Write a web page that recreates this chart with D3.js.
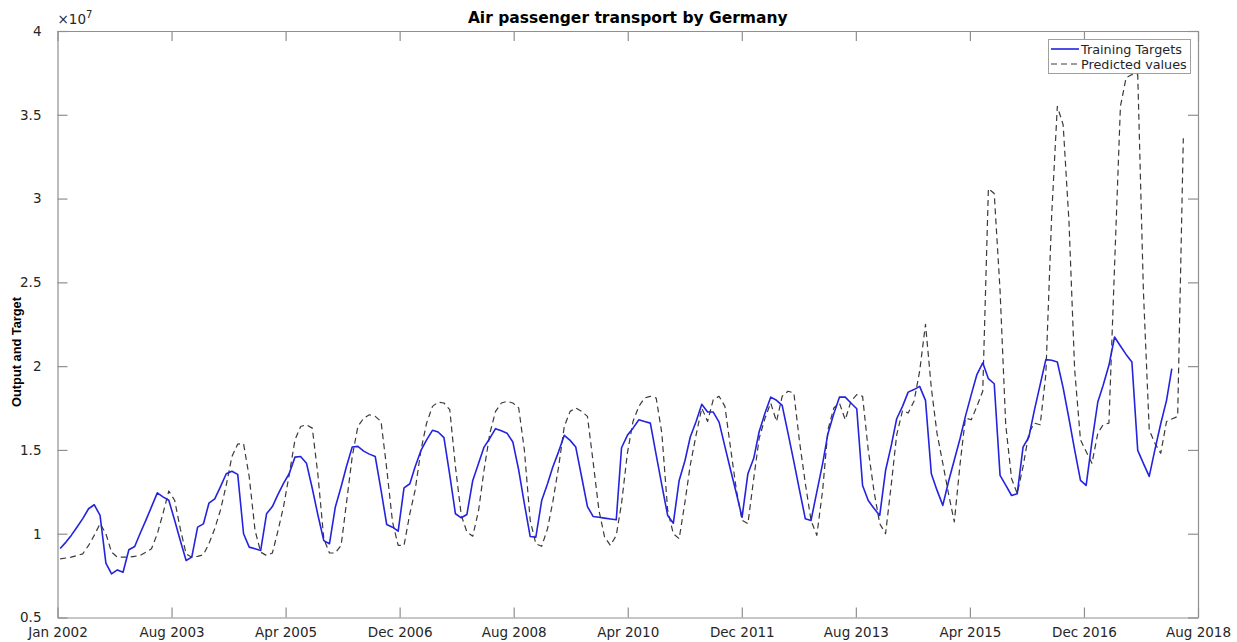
<!DOCTYPE html>
<html>
<head>
<meta charset="utf-8">
<script src="https://cdn.jsdelivr.net/npm/d3@7"></script>
<style>
  body { margin: 0; background: #ffffff; }
  svg { display: block; font-family: "DejaVu Sans", sans-serif; }
</style>
</head>
<body>
<svg id="chart" width="1237" height="642"></svg>
<script>
// ---- data (values in units of 1e7 passengers, monthly from Jan 2002) ----
const firstYear = 2002;
const firstMonth = 0; // January
const trainingTargets = [
  0.912, 0.95, 0.99, 1.04, 1.09, 1.149, 1.173, 1.109, 0.824, 0.760, 0.784, 0.770,
  0.904, 0.924, 1.00, 1.08, 1.16, 1.244, 1.22, 1.20, 1.08, 0.96, 0.84, 0.86,
  1.039, 1.059, 1.182, 1.208, 1.28, 1.358, 1.373, 1.354, 1.00, 0.92, 0.91, 0.90,
  1.119, 1.162, 1.23, 1.30, 1.358, 1.457, 1.461, 1.421, 1.27, 1.11, 0.959, 0.94,
  1.158, 1.28, 1.40, 1.517, 1.521, 1.493, 1.475, 1.461, 1.26, 1.055, 1.039, 1.015,
  1.274, 1.298, 1.40, 1.497, 1.56, 1.617, 1.607, 1.573, 1.35, 1.119, 1.095, 1.115,
  1.318, 1.42, 1.517, 1.57, 1.627, 1.615, 1.60, 1.547, 1.38, 1.18, 0.983, 0.979,
  1.198, 1.298, 1.398, 1.49, 1.587, 1.557, 1.517, 1.34, 1.162, 1.103, 1.098, 1.093,
  1.088, 1.083, 1.513, 1.587, 1.63, 1.68, 1.67, 1.66, 1.47, 1.29, 1.109, 1.063,
  1.318, 1.437, 1.577, 1.67, 1.772, 1.726, 1.726, 1.666, 1.52, 1.38, 1.24, 1.098,
  1.358, 1.45, 1.61, 1.72, 1.815, 1.796, 1.766, 1.60, 1.43, 1.26, 1.089, 1.079,
  1.25, 1.42, 1.597, 1.716, 1.815, 1.815, 1.78, 1.746, 1.288, 1.198, 1.15, 1.109,
  1.377, 1.53, 1.686, 1.76, 1.845, 1.86, 1.879, 1.796, 1.358, 1.26, 1.169, 1.31,
  1.44, 1.57, 1.70, 1.83, 1.95, 2.02, 1.925, 1.895, 1.348, 1.29, 1.228, 1.238,
  1.517, 1.577, 1.736, 1.89, 2.039, 2.035, 2.025, 1.87, 1.686, 1.50, 1.318, 1.288,
  1.55, 1.786, 1.885, 2.005, 2.174, 2.12, 2.07, 2.025, 1.497, 1.42, 1.342, 1.50,
  1.656, 1.796, 1.985
];
const predictedValues = [
  0.85, 0.855, 0.86, 0.87, 0.88, 0.93, 0.99, 1.06, 1.00, 0.89, 0.86, 0.86,
  0.86, 0.865, 0.87, 0.89, 0.91, 1.00, 1.12, 1.255, 1.20, 1.03, 0.88, 0.86,
  0.865, 0.875, 0.94, 1.03, 1.14, 1.29, 1.46, 1.535, 1.537, 1.34, 1.02, 0.89,
  0.87, 0.885, 1.01, 1.16, 1.35, 1.56, 1.64, 1.65, 1.63, 1.35, 0.97, 0.885,
  0.885, 0.93, 1.18, 1.46, 1.64, 1.69, 1.71, 1.70, 1.67, 1.39, 1.07, 0.93,
  0.93, 1.12, 1.26, 1.50, 1.66, 1.76, 1.785, 1.78, 1.74, 1.40, 1.11, 1.01,
  0.985, 1.14, 1.38, 1.60, 1.73, 1.78, 1.79, 1.78, 1.75, 1.50, 1.08, 0.94,
  0.925, 1.03, 1.19, 1.40, 1.64, 1.73, 1.75, 1.73, 1.70, 1.43, 1.14, 0.98,
  0.93, 0.99, 1.18, 1.48, 1.67, 1.76, 1.81, 1.82, 1.81, 1.60, 1.14, 1.00,
  0.97, 1.19, 1.41, 1.59, 1.75, 1.67, 1.80, 1.82, 1.76, 1.51, 1.26, 1.08,
  1.06, 1.33, 1.57, 1.69, 1.78, 1.67, 1.82, 1.85, 1.84, 1.55, 1.30, 1.08,
  0.99, 1.26, 1.62, 1.75, 1.78, 1.68, 1.79, 1.83, 1.82, 1.50, 1.25, 1.06,
  1.00, 1.30, 1.59, 1.735, 1.72, 1.79, 1.97, 2.25, 1.87, 1.60, 1.42, 1.24,
  1.07, 1.42, 1.69, 1.68, 1.76, 1.85, 3.06, 3.03, 2.45, 1.65, 1.33, 1.24,
  1.40, 1.60, 1.66, 1.65, 1.95, 2.90, 3.55, 3.44, 2.86, 1.98, 1.56, 1.49,
  1.42, 1.60, 1.65, 1.66, 2.60, 3.55, 3.72, 3.74, 3.74, 2.45, 1.62, 1.54,
  1.48, 1.67, 1.685, 1.70, 3.36
];
const xTickLabels = ["Jan 2002", "Aug 2003", "Apr 2005", "Dec 2006", "Aug 2008",
  "Apr 2010", "Dec 2011", "Aug 2013", "Apr 2015", "Dec 2016", "Aug 2018"];
const yTickValues = [0.5, 1, 1.5, 2, 2.5, 3, 3.5, 4];
const yTickLabels = ["0.5", "1", "1.5", "2", "2.5", "3", "3.5", "4"];
const seriesNames = ["Training Targets", "Predicted values"];
const titleText = "Air passenger transport by Germany";
const yLabelText = "Output and Target";

// ---- layout ----
const W = 1237, H = 642;
const margin = { left: 57.5, right: 1198, top: 31, bottom: 617.5 };
const axisColor = "#8f8f8f";
const textColor = "#262626";

const svg = d3.select("#chart");
const dateOf = i => new Date(firstYear, firstMonth + i, 15);
const xDomain = [new Date(2002, 0, 1), new Date(2018, 7, 1)];
const x = d3.scaleTime().domain(xDomain).range([margin.left, margin.right]);
const y = d3.scaleLinear().domain([0.5, 4]).range([margin.bottom, margin.top]);

// x tick positions: evenly spaced across domain
const t0 = xDomain[0].getTime(), t1 = xDomain[1].getTime();
const xTickDates = xTickLabels.map((_, k) => new Date(t0 + k * (t1 - t0) / (xTickLabels.length - 1)));

const tickLen = 10;
const xAxisB = d3.axisBottom(x).tickValues(xTickDates).tickFormat((d, i) => xTickLabels[i])
  .tickSizeInner(-tickLen).tickSizeOuter(0).tickPadding(18);
const gxb = svg.append("g").attr("transform", `translate(0,${margin.bottom})`).call(xAxisB);
const xAxisT = d3.axisTop(x).tickValues(xTickDates).tickFormat("").tickSizeInner(-tickLen).tickSizeOuter(0);
const gxt = svg.append("g").attr("transform", `translate(0,${margin.top})`).call(xAxisT);
const yAxisL = d3.axisLeft(y).tickValues(yTickValues).tickFormat((d, i) => yTickLabels[i])
  .tickSizeInner(-tickLen).tickSizeOuter(0).tickPadding(16);
const gyl = svg.append("g").attr("transform", `translate(${margin.left},0)`).call(yAxisL);
const yAxisR = d3.axisRight(y).tickValues(yTickValues).tickFormat("").tickSizeInner(-tickLen).tickSizeOuter(0);
const gyr = svg.append("g").attr("transform", `translate(${margin.right},0)`).call(yAxisR);

[gxb, gxt, gyl, gyr].forEach(g => {
  g.select(".domain").attr("stroke", axisColor).attr("stroke-width", 1.2);
  g.selectAll(".tick line").attr("stroke", axisColor).attr("stroke-width", 1.2);
  g.selectAll(".tick text").attr("fill", textColor).attr("font-size", 13.5)
    .attr("font-family", "DejaVu Sans, sans-serif");
});
gxb.selectAll(".tick text").attr("dy", "0.1em");

// exponent label
const expo = svg.append("text").attr("x", margin.left).attr("y", 24)
  .attr("fill", textColor).attr("font-size", 13.5);
expo.append("tspan").text("\u00d710");
expo.append("tspan").attr("dy", -6).attr("font-size", 10).text("7");

// title
svg.append("text").attr("x", (margin.left + margin.right) / 2).attr("y", 23)
  .attr("text-anchor", "middle").attr("font-weight", "bold").attr("font-size", 15.5)
  .attr("fill", "#000").text(titleText);

// y label
svg.append("text").attr("transform", `translate(21,352) rotate(-90)`)
  .attr("text-anchor", "middle").attr("font-weight", "bold").attr("font-size", 12.8)
  .attr("font-family", "Liberation Sans, Arial, sans-serif")
  .attr("fill", "#000").text(yLabelText);

// lines
svg.append("clipPath").attr("id", "plotclip").append("rect")
  .attr("x", margin.left).attr("y", margin.top)
  .attr("width", margin.right - margin.left).attr("height", margin.bottom - margin.top);

const line = d3.line().x((d, i) => x(dateOf(i))).y(d => y(d));
const plot = svg.append("g").attr("clip-path", "url(#plotclip)");
plot.append("path").datum(predictedValues).attr("d", line)
  .attr("fill", "none").attr("stroke", "#3a3a3a").attr("stroke-width", 1.2)
  .attr("stroke-dasharray", "6,4").attr("stroke-linejoin", "round");
plot.append("path").datum(trainingTargets).attr("d", line)
  .attr("fill", "none").attr("stroke", "#2323e0").attr("stroke-width", 1.6)
  .attr("stroke-linejoin", "round");

// legend
const lg = svg.append("g");
lg.append("rect").attr("x", 1048.5).attr("y", 39.5).attr("width", 142).attr("height", 34)
  .attr("fill", "#fff").attr("stroke", "#a0a0a0").attr("stroke-width", 1);
lg.append("line").attr("x1", 1051).attr("x2", 1079).attr("y1", 49).attr("y2", 49)
  .attr("stroke", "#2323e0").attr("stroke-width", 1.6);
lg.append("line").attr("x1", 1051).attr("x2", 1079).attr("y1", 64).attr("y2", 64)
  .attr("stroke", "#3a3a3a").attr("stroke-width", 1.2).attr("stroke-dasharray", "6,4");
lg.append("text").attr("x", 1081).attr("y", 53.5).attr("font-size", 12.8).attr("fill", textColor).text(seriesNames[0]);
lg.append("text").attr("x", 1081).attr("y", 68.5).attr("font-size", 12.8).attr("fill", textColor).text(seriesNames[1]);
</script>
</body>
</html>
